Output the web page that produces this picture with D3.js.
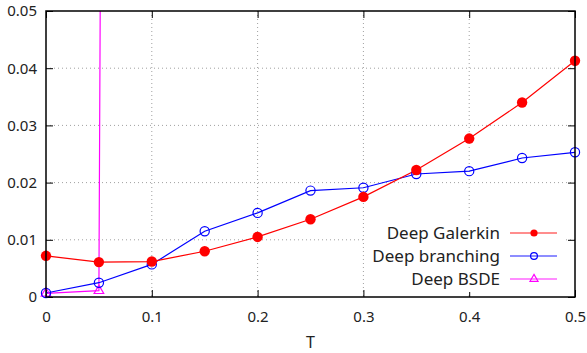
<!DOCTYPE html>
<html>
<head>
<meta charset="utf-8">
<script src="https://cdn.jsdelivr.net/npm/d3@7"></script>
<style>
  body { margin: 0; background: #fff; }
  svg text { font-family: "Noto Sans", sans-serif; fill: #222; }
</style>
</head>
<body>
<svg id="chart" width="587" height="353"></svg>
<script>
// values
var T = [0, 0.05, 0.1, 0.15, 0.2, 0.25, 0.3, 0.35, 0.4, 0.45, 0.5];
var galerkin = [0.0072, 0.0061, 0.0062, 0.0080, 0.0105, 0.0136, 0.0175, 0.0222, 0.0277, 0.0340, 0.0413];
var branching = [0.0007, 0.0025, 0.0057, 0.0115, 0.0147, 0.0186, 0.0191, 0.0215, 0.0220, 0.0243, 0.0253];
var bsdeT = [0, 0.05, 0.1];
var bsde = [0.00065, 0.0011, 2.0]; // blows up off the chart after T=0.05
var xTicks = [0, 0.1, 0.2, 0.3, 0.4, 0.5];
var yTicks = [0, 0.01, 0.02, 0.03, 0.04, 0.05];
var seriesNames = ["Deep Galerkin", "Deep branching", "Deep BSDE"];

var svg = d3.select("#chart"),
    margin = {top: 11, right: 12, bottom: 56, left: 46},
    width = +svg.attr("width") - margin.left - margin.right,
    height = +svg.attr("height") - margin.top - margin.bottom;

var x = d3.scaleLinear().domain([0, 0.5]).range([0, width]),
    y = d3.scaleLinear().domain([0, 0.05]).range([height, 0]);

var g = svg.append("g")
    .attr("transform", "translate(" + margin.left + "," + margin.top + ")");

svg.append("defs").append("clipPath").attr("id", "clip")
    .append("rect").attr("width", width).attr("height", height);

// grid
g.append("g").selectAll("line").data(xTicks.slice(1, -1)).enter().append("line")
    .attr("x1", function (d) { return x(d); }).attr("x2", function (d) { return x(d); })
    .attr("y1", 0).attr("y2", height)
    .attr("stroke", "#a0a0a0").attr("stroke-width", 1).attr("stroke-dasharray", "1,3");
g.append("g").selectAll("line").data(yTicks.slice(1, -1)).enter().append("line")
    .attr("y1", function (d) { return y(d); }).attr("y2", function (d) { return y(d); })
    .attr("x1", 0).attr("x2", width)
    .attr("stroke", "#a0a0a0").attr("stroke-width", 1).attr("stroke-dasharray", "1,3");

// axes (ticks inward, mirrored)
function styleAxis(sel) {
    sel.select(".domain").remove();
    sel.selectAll(".tick line").attr("stroke", "#000").attr("stroke-width", 1);
    sel.selectAll(".tick text").attr("font-size", "15px").style("fill", "#222");
}
g.append("g").attr("transform", "translate(0," + height + ")")
    .call(d3.axisBottom(x).tickValues(xTicks).tickSizeInner(-7).tickPadding(14).tickFormat(d3.format("")))
    .call(styleAxis);
g.append("g")
    .call(d3.axisTop(x).tickValues(xTicks).tickSizeInner(-7).tickFormat(""))
    .call(styleAxis);
g.append("g")
    .call(d3.axisLeft(y).tickValues(yTicks).tickSizeInner(-7).tickPadding(9).tickFormat(d3.format("")))
    .call(styleAxis);
g.append("g").attr("transform", "translate(" + width + ",0)")
    .call(d3.axisRight(y).tickValues(yTicks).tickSizeInner(-7).tickFormat(""))
    .call(styleAxis);

g.append("text").attr("x", width / 2).attr("y", height + 51)
    .attr("text-anchor", "middle").attr("font-size", "16px").text("T");

// series
var line = d3.line().x(function (d) { return x(d[0]); }).y(function (d) { return y(d[1]); });
var plots = g.append("g").attr("clip-path", "url(#clip)");

var dG = d3.zip(T, galerkin), dB = d3.zip(T, branching), dS = d3.zip(bsdeT, bsde);

plots.append("path").datum(dS).attr("d", line).attr("fill", "none").attr("stroke", "#ff00ff").attr("stroke-width", 1.2);
plots.append("path").datum(dB).attr("d", line).attr("fill", "none").attr("stroke", "#0000ff").attr("stroke-width", 1.2);
plots.append("path").datum(dG).attr("d", line).attr("fill", "none").attr("stroke", "#ff0000").attr("stroke-width", 1.2);

var tri = d3.symbol().type(d3.symbolTriangle).size(40);
g.append("g").selectAll("path").data(dS.filter(function (d) { return d[1] <= 0.05; })).enter().append("path")
    .attr("transform", function (d) { return "translate(" + x(d[0]) + "," + y(d[1]) + ")"; })
    .attr("d", tri).attr("fill", "none").attr("stroke", "#ff00ff").attr("stroke-width", 1.2);
g.append("g").selectAll("circle").data(dB).enter().append("circle")
    .attr("cx", function (d) { return x(d[0]); }).attr("cy", function (d) { return y(d[1]); })
    .attr("r", 4.6).attr("fill", "none").attr("stroke", "#0000ff").attr("stroke-width", 1.2);
g.append("g").selectAll("circle").data(dG).enter().append("circle")
    .attr("cx", function (d) { return x(d[0]); }).attr("cy", function (d) { return y(d[1]); })
    .attr("r", 5.2).attr("fill", "#ff0000");

// legend
var legend = g.append("g").attr("transform", "translate(" + (width - 200) + "," + (height - 75) + ")");
legend.append("rect").attr("x", -10).attr("y", 0).attr("width", 198).attr("height", 70).attr("fill", "#fff");
var colors = ["#ff0000", "#0000ff", "#ff00ff"];
seriesNames.forEach(function (name, i) {
    var yy = 11 + i * 23;
    legend.append("text").attr("x", 125).attr("y", yy).attr("dy", "0.35em")
        .attr("text-anchor", "end").attr("font-size", "17px").text(name);
    legend.append("line").attr("x1", 135).attr("x2", 182).attr("y1", yy).attr("y2", yy)
        .attr("stroke", colors[i]).attr("stroke-width", 1.5).attr("stroke-opacity", 0.6);
    var cx = 159;
    if (i === 0) {
        legend.append("circle").attr("cx", cx).attr("cy", yy).attr("r", 3.6).attr("fill", colors[i]);
    } else if (i === 1) {
        legend.append("circle").attr("cx", cx).attr("cy", yy).attr("r", 3.4).attr("fill", "none")
            .attr("stroke", colors[i]).attr("stroke-width", 1.2);
    } else {
        legend.append("path").attr("transform", "translate(" + cx + "," + yy + ")")
            .attr("d", d3.symbol().type(d3.symbolTriangle).size(28))
            .attr("fill", "none").attr("stroke", colors[i]).attr("stroke-width", 1.2);
    }
});

// frame on top
g.append("rect").attr("width", width).attr("height", height)
    .attr("fill", "none").attr("stroke", "#000").attr("stroke-width", 1.5);
</script>
</body>
</html>
